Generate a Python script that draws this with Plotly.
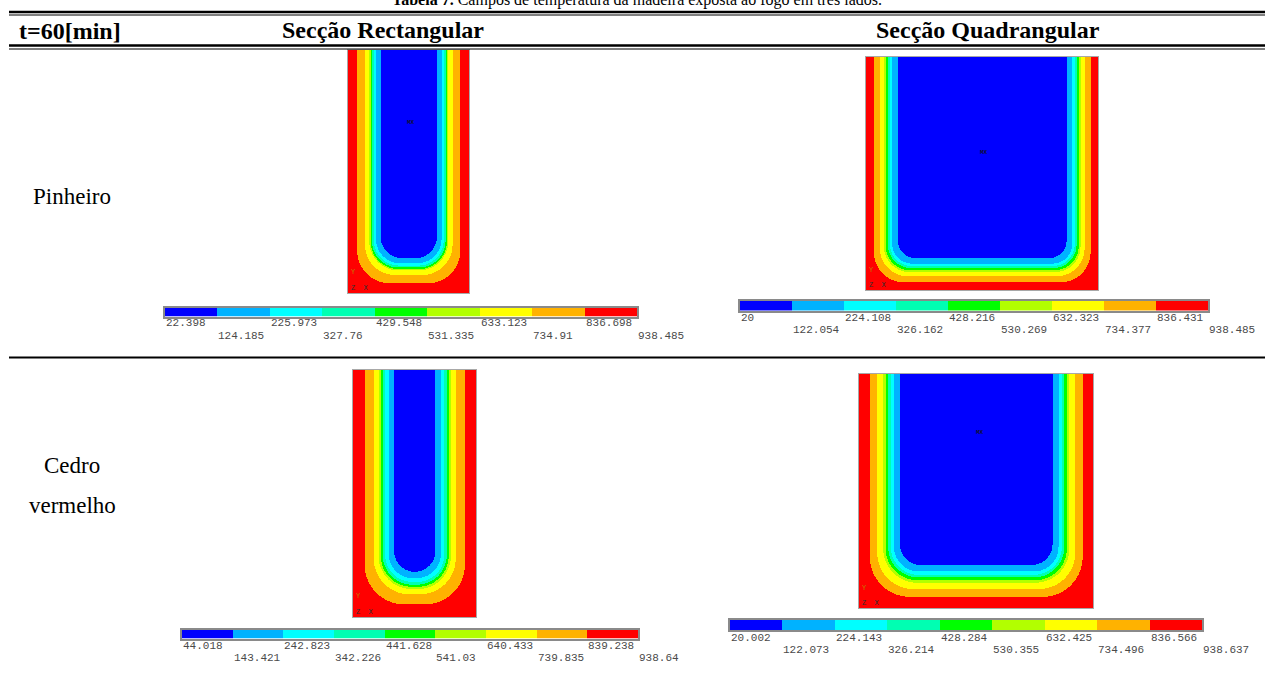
import numpy as np
import plotly.graph_objects as go

W, H = 1273, 675

# ---------------- data ----------------
title_bold = "Tabela 7."
title_rest = " Campos de temperatura da madeira exposta ao fogo em três lados."
header_time = "t=60[min]"
col_titles = ["Secção Rectangular", "Secção Quadrangular"]
row_titles = ["Pinheiro", "Cedro", "vermelho"]

band_colors = ["#0000FF", "#00B2FF", "#00FFFF", "#00FFB2", "#00FF00",
               "#B2FF00", "#FFFF00", "#FFB200", "#FF0000"]

# section sizes (mm): width, height
sec_rect = (100.0, 200.0)
sec_square = (200.0, 200.0)

# legend labels (temperature, deg C)
labels_pin_rect = ["22.398", "124.185", "225.973", "327.76", "429.548",
                   "531.335", "633.123", "734.91", "836.698", "938.485"]
labels_pin_sq = ["20", "122.054", "224.108", "326.162", "428.216",
                 "530.269", "632.323", "734.377", "836.431", "938.485"]
labels_ced_rect = ["44.018", "143.421", "242.823", "342.226", "441.628",
                   "541.03", "640.433", "739.835", "839.238", "938.64"]
labels_ced_sq = ["20.002", "122.073", "224.143", "326.214", "428.284",
                 "530.355", "632.425", "734.496", "836.566", "938.637"]

# depth (mm) from the side faces to each isotherm
# (836 | 734 | 632 | 530 | 428 | 326 | 224 | 122 deg C boundaries, outer to inner)
depth_pin_rect = [7.4, 13.8, 17.4, 18.4, 19.6, 21.1, 22.9, 26.7]
depth_pin_sq = [6.6, 11.8, 15.3, 16.8, 18.7, 20.3, 22.4, 27.3]
depth_ced_rect = [9.3, 16.7, 20.6, 22.4, 24.0, 26.0, 28.7, 33.3]
depth_ced_sq = [9.1, 15.4, 20.5, 22.6, 24.8, 26.9, 29.7, 34.8]
# depth (mm) from the bottom face to each isotherm
depth_bot_pin_rect = [8.2, 15.0, 18.8, 19.9, 21.2, 22.8, 24.7, 28.8]
depth_bot_pin_sq = [6.8, 12.0, 15.6, 17.2, 19.1, 20.8, 22.9, 27.6]
depth_bot_ced_rect = [10.5, 18.6, 22.8, 24.7, 26.4, 28.6, 31.6, 36.8]
depth_bot_ced_sq = [9.8, 16.4, 21.8, 24.0, 26.3, 28.5, 31.5, 36.9]
# corner radius (mm) of each isotherm at the two lower corners
radius_pin_rect = [27.0, 25.0, 24.0, 23.0, 22.0, 21.0, 20.0, 18.0]
radius_pin_sq = [26.0, 24.0, 22.0, 21.0, 20.0, 19.0, 17.0, 15.0]
radius_ced_rect = [32.0, 29.0, 27.0, 25.0, 24.0, 22.0, 20.0, 17.0]
radius_ced_sq = [34.0, 31.0, 29.0, 27.0, 26.0, 24.0, 21.0, 18.0]

# MX / MN marker positions (mm, from bottom-left of section)
mark_pin_rect = ("MX", 52.0, 140.0)
mark_pin_sq = ("MX", 102.0, 118.0)
mark_ced_rect = ("MN", 50.0, 203.0)
mark_ced_sq = ("MX", 103.0, 150.0)

# ---------------- layout boxes (pixels) ----------------
panels = [
    dict(sec=sec_rect, labels=labels_pin_rect, depth=depth_pin_rect, dbot=depth_bot_pin_rect,
         rad=radius_pin_rect, mark=mark_pin_rect,
         box=(348, 469, 50, 293), bar=(165, 637, 307.5, 316.5), lab_y=(323, 336)),
    dict(sec=sec_square, labels=labels_pin_sq, depth=depth_pin_sq, dbot=depth_bot_pin_sq,
         rad=radius_pin_sq, mark=mark_pin_sq,
         box=(866, 1098, 57, 290), bar=(740, 1208, 301, 310.5), lab_y=(318, 330)),
    dict(sec=sec_rect, labels=labels_ced_rect, depth=depth_ced_rect, dbot=depth_bot_ced_rect,
         rad=radius_ced_rect, mark=mark_ced_rect,
         box=(353, 476, 370, 617), bar=(182, 638, 629.5, 638.5), lab_y=(646, 658)),
    dict(sec=sec_square, labels=labels_ced_sq, depth=depth_ced_sq, dbot=depth_bot_ced_sq,
         rad=radius_ced_sq, mark=mark_ced_sq,
         box=(859, 1093, 374, 608), bar=(730, 1202, 620, 630), lab_y=(638, 650)),
]


def px(x):
    return x / W


def py(y):
    return 1 - y / H


def inside(X, Y, w, c, cb, r):
    """points deeper than the isotherm (side depth c, bottom depth cb, corner radius r)"""
    r = min(r, w / 2 - c)
    ok = (X > c) & (X < w - c) & (Y > cb)
    cy = cb + r
    cl = c + r
    cr = w - c - r
    left = (X < cl) & (Y < cy)
    right = (X > cr) & (Y < cy)
    ok &= ~(left & ((X - cl) ** 2 + (Y - cy) ** 2 > r * r))
    ok &= ~(right & ((X - cr) ** 2 + (Y - cy) ** 2 > r * r))
    return ok


colorscale = []
for i, c in enumerate(band_colors):
    colorscale.append([i / 9, c])
    colorscale.append([(i + 1) / 9, c])

fig = go.Figure()
layout_axes = {}
annotations = []

for k, p in enumerate(panels):
    w, h = p["sec"]
    x0, x1, y0, y1 = p["box"]
    vals = [float(v) for v in p["labels"]]
    tmin, tmax = vals[0], vals[-1]
    mids = [(vals[i] + vals[i + 1]) / 2 for i in range(9)]
    nx = int(round((x1 - x0) * 2))
    ny = int(round((y1 - y0) * 2))
    xs = (np.arange(nx) + 0.5) * w / nx
    ys = (np.arange(ny) + 0.5) * h / ny
    X, Y = np.meshgrid(xs, ys)
    band = np.full(X.shape, 8, dtype=int)
    for c, cb, r in zip(p["depth"], p["dbot"], p["rad"]):
        band -= inside(X, Y, w, c, cb, r).astype(int)
    T = np.array(mids)[band]

    ax_i = 2 * k + 1
    xa = "x" if ax_i == 1 else f"x{ax_i}"
    ya = "y" if ax_i == 1 else f"y{ax_i}"
    fig.add_trace(go.Heatmap(x=xs, y=ys, z=T, zmin=tmin, zmax=tmax,
                             colorscale=colorscale, showscale=False,
                             xaxis=xa, yaxis=ya, hoverinfo="skip"))
    layout_axes[f"xaxis{'' if ax_i == 1 else ax_i}"] = dict(
        domain=[px(x0), px(x1)], range=[0, w], anchor=ya, showgrid=False,
        zeroline=False, showticklabels=False, ticks="", showline=True,
        mirror=True, linecolor="#a8a8a8", linewidth=1)
    layout_axes[f"yaxis{'' if ax_i == 1 else ax_i}"] = dict(
        domain=[py(y1), py(y0)], range=[0, h], anchor=xa, showgrid=False,
        zeroline=False, showticklabels=False, ticks="", showline=True,
        mirror=True, linecolor="#a8a8a8", linewidth=1)

    mtxt, mx, my = p["mark"]
    annotations.append(dict(x=mx, y=my, xref=xa, yref=ya, text=f"<b>{mtxt}</b>", showarrow=False,
                            font=dict(family="Liberation Mono", size=6, color="#101030"),
                            yanchor="bottom" if mtxt == "MN" else "middle"))
    annotations.append(dict(x=0.5, y=h * 0.085, xref=xa, yref=ya, text="Y", showarrow=False,
                            xanchor="left", font=dict(family="Liberation Mono", size=7, color="#c08000")))
    annotations.append(dict(x=0.5, y=h * 0.02, xref=xa, yref=ya, text="Z  X", showarrow=False,
                            xanchor="left", font=dict(family="Liberation Mono", size=7, color="#303030")))

    # colour bar
    bi = 2 * k + 2
    bxa, bya = f"x{bi}", f"y{bi}"
    bx0, bx1, by0, by1 = p["bar"]
    fig.add_trace(go.Heatmap(x=vals, y=[0, 1], z=[mids], zmin=tmin, zmax=tmax,
                             colorscale=colorscale, showscale=False,
                             xaxis=bxa, yaxis=bya, hoverinfo="skip"))
    layout_axes[f"xaxis{bi}"] = dict(
        domain=[px(bx0), px(bx1)], range=[tmin, tmax], anchor=bya, showgrid=False,
        zeroline=False, showticklabels=False, ticks="", showline=True,
        mirror=True, linecolor="#8a8a8a", linewidth=2)
    layout_axes[f"yaxis{bi}"] = dict(
        domain=[py(by1), py(by0)], range=[0, 1], anchor=bxa, showgrid=False,
        zeroline=False, showticklabels=False, ticks="", showline=True,
        mirror=True, linecolor="#8a8a8a", linewidth=2)
    for i, (lab, v) in enumerate(zip(p["labels"], vals)):
        yy = p["lab_y"][i % 2]
        annotations.append(dict(x=v, y=py(yy), xref=bxa, yref="paper", text=lab,
                                showarrow=False, xanchor="left", yanchor="middle", xshift=-1,
                                font=dict(family="Liberation Mono", size=11, color="#4a4a4a")))

# ---------------- table text ----------------
serif = "Liberation Serif"
annotations.append(dict(x=0.5, y=py(11), xref="paper", yref="paper",
                        text=f"<b>{title_bold}</b>{title_rest}", showarrow=False,
                        yanchor="bottom", font=dict(family=serif, size=16, color="black")))
annotations.append(dict(x=px(17), y=py(31), xref="paper", yref="paper", text=f"<b>{header_time}</b>",
                        showarrow=False, xanchor="left", yanchor="middle",
                        font=dict(family=serif, size=24, color="black")))
for txt, cx in zip(col_titles, [383, 988]):
    annotations.append(dict(x=px(cx), y=py(30), xref="paper", yref="paper", text=f"<b>{txt}</b>",
                            showarrow=False, xanchor="center", yanchor="middle",
                            font=dict(family=serif, size=24, color="black")))
for txt, cy in zip(row_titles, [196, 465, 505]):
    annotations.append(dict(x=px(72), y=py(cy), xref="paper", yref="paper", text=txt,
                            showarrow=False, xanchor="center", yanchor="middle",
                            font=dict(family=serif, size=23, color="black")))

shapes = []


def hline(y, width, x0=9, x1=1265, color="black"):
    shapes.append(dict(type="line", xref="paper", yref="paper", x0=px(x0), x1=px(x1),
                       y0=py(y), y1=py(y), line=dict(color=color, width=width)))


hline(12, 2.5)
hline(15, 1)
hline(45.5, 2.5)
hline(49, 1)
hline(357.5, 2)

fig.update_layout(width=W, height=H, margin=dict(l=0, r=0, t=0, b=0),
                  paper_bgcolor="white", plot_bgcolor="white", showlegend=False,
                  annotations=annotations, shapes=shapes, **layout_axes)

fig.write_html("out.html")
